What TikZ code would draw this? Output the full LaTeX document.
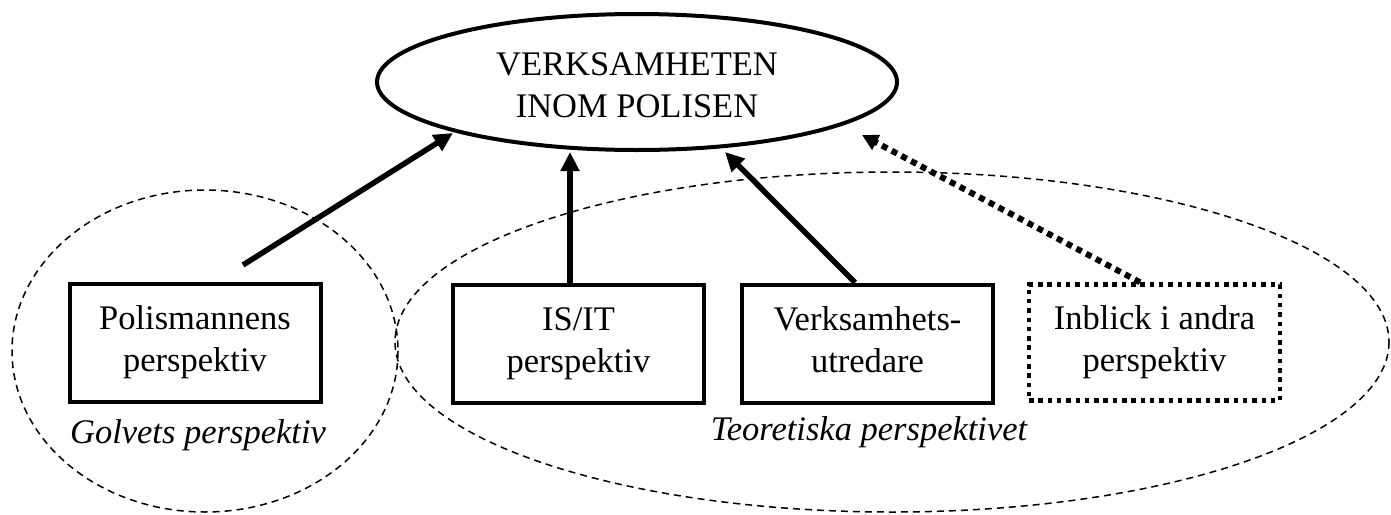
\documentclass[tikz,border=0pt]{standalone}
\usepackage{fontspec}
\setmainfont{Liberation Serif}
\usetikzlibrary{shapes.geometric,arrows.meta}
\newcommand{\tallstrut}{\rule{0pt}{40.6pt}}
\begin{document}
\begin{tikzpicture}[x=1pt,y=-1pt,
  txt/.style={font=\fontsize{34.5}{42}\selectfont, align=center, inner sep=0pt},
  grouplabel/.style={font=\fontsize{34.5}{42}\selectfont\itshape, anchor=base, inner sep=0pt},
  stepbox/.style={txt, draw, line width=4pt, minimum width=251pt, minimum height=118pt},
  hintbox/.style={txt, draw, line width=4.5pt, dash pattern=on 4.5pt off 4.8pt, minimum width=251pt, minimum height=116pt},
  goal/.style={txt, ellipse, draw, line width=4pt, minimum width=520pt, minimum height=136pt},
  region/.style={draw, line width=1.5pt, dash pattern=on 7pt off 5pt},
  flow/.style={line width=5.5pt, -{Triangle[length=19pt, width=18pt]}},
  weakflow/.style={line width=6pt, dash pattern=on 6pt off 5pt, -{Triangle[length=16pt, width=16pt]}}
]
\useasboundingbox (0,0) rectangle (1391,514);

% perspective regions
\draw[region] (205,351) ellipse [x radius=193, y radius=161];
\draw[region] (892,342) ellipse [x radius=497, y radius=170];

% the organisation
\node[goal] (org) at (637,82) {\tallstrut VERKSAMHETEN\\\strut INOM POLISEN};

% perspectives
\node[stepbox] (pol)  at (195,342.5) {\strut Polismannens\\\strut perspektiv};
\node[stepbox] (isit) at (578.5,343.5) {\strut IS/IT\\\strut perspektiv};
\node[stepbox] (verk) at (867.5,343.5) {\strut Verksamhets-\\\strut utredare};
\node[hintbox] (inbl) at (1154.5,342.5) {\strut Inblick i andra\\\strut perspektiv};

% region labels
\node[grouplabel] (golv) at (198,443) {Golvets perspektiv};
\node[grouplabel] (teor) at (869,440) {Teoretiska perspektivet};

% arrow end points
\coordinate (polstart) at (243,265);
\coordinate (poltip)  at (453,133);
\coordinate (isittip) at (570,152);
\coordinate (verktip) at (725,152);
\coordinate (inbltip) at (862,135);

\draw[flow] (polstart) -- (poltip);
\draw[flow] ([xshift=-8.5pt]isit.north) -- (isittip);
\draw[flow] ([xshift=-12.5pt]verk.north) -- (verktip);
\draw[weakflow] ([xshift=-14.5pt]inbl.north) -- (inbltip);
\end{tikzpicture}
\end{document}
